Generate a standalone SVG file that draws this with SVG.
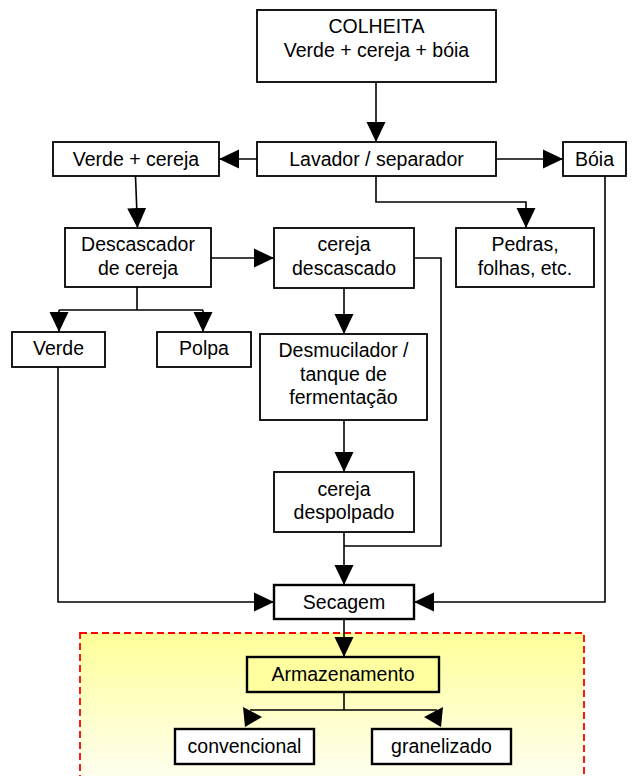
<svg xmlns="http://www.w3.org/2000/svg" width="638" height="776" viewBox="0 0 638 776">
<style>
.box{fill:#fff;stroke:#000;stroke-width:1.8}
.bbox{fill:#fff;stroke:#000;stroke-width:2.4}
.ybox{fill:#ffffa0;stroke:#000;stroke-width:2.4}
.t{font-family:"Liberation Sans",Arial,sans-serif;font-size:19.5px;fill:#000;text-anchor:middle}
.c{fill:none;stroke:#000;stroke-width:1.6}
.a{marker-end:url(#ah)}
</style>
<defs>
<marker id="ah" markerUnits="userSpaceOnUse" markerWidth="20" markerHeight="20" refX="20" refY="9.5" orient="auto" viewBox="0 0 20 19">
<path d="M0,0 L20,9.5 L0,19 z" fill="#000"/>
</marker>
<linearGradient id="yg" x1="0" y1="0" x2="0" y2="1">
<stop offset="0" stop-color="#ffff99"/>
<stop offset="1" stop-color="#ffffff"/>
</linearGradient>
</defs>
<rect x="80" y="633" width="504" height="170" fill="url(#yg)" stroke="#ff0000" stroke-width="1.8" stroke-dasharray="7,4"/>
<g id="connectors">
<line class="c a" x1="376" y1="82" x2="376" y2="142"/>
<line class="c a" x1="257" y1="159" x2="219" y2="159"/>
<line class="c a" x1="496" y1="159" x2="563" y2="159"/>
<polyline class="c a" points="376,176 376,202 526,202 526,228"/>
<line class="c a" x1="135.5" y1="176" x2="137.5" y2="228"/>
<line class="c a" x1="211" y1="258" x2="274" y2="258"/>
<polyline class="c" points="137,287 137,310"/>
<line class="c" x1="59" y1="310" x2="203" y2="310"/>
<line class="c a" x1="59" y1="310" x2="59" y2="332"/>
<line class="c a" x1="203" y1="310" x2="203" y2="332"/>
<line class="c a" x1="344" y1="288" x2="344" y2="334"/>
<line class="c a" x1="344" y1="420" x2="344" y2="472"/>
<polyline class="c" points="414,258 441,258 441,546 344,546"/>
<line class="c a" x1="344" y1="532" x2="344" y2="585"/>
<polyline class="c a" points="58,367 58,602 274,602"/>
<polyline class="c a" points="605,176 605,602 414,602"/>
<line class="c a" x1="344" y1="619" x2="344" y2="657"/>
<line class="c" x1="344" y1="692" x2="344" y2="710"/>
<line class="c" x1="250" y1="710" x2="437" y2="710"/>
<polygon points="243,707 262,717 245,727" fill="#000"/>
<polygon points="443,707 424,717 441,727" fill="#000"/>
</g>
<g id="colheita"><rect class="box" x="257" y="10" width="239" height="72"/><text class="t" x="376.5" y="33">COLHEITA</text><text class="t" x="376.5" y="57">Verde + cereja + bóia</text></g>
<g id="lavador"><rect class="box" x="257" y="142" width="239" height="34"/><text class="t" x="376.5" y="166">Lavador / separador</text></g>
<g id="verde-cereja"><rect class="box" x="53" y="142" width="166" height="34"/><text class="t" x="136" y="166">Verde + cereja</text></g>
<g id="boia"><rect class="box" x="563" y="142" width="63" height="34"/><text class="t" x="594.5" y="166">Bóia</text></g>
<g id="descascador"><rect class="box" x="65" y="228" width="146" height="59"/><text class="t" x="138" y="251">Descascador</text><text class="t" x="138" y="275">de cereja</text></g>
<g id="cereja-descascado"><rect class="box" x="274" y="228" width="140" height="60"/><text class="t" x="344" y="251">cereja</text><text class="t" x="344" y="275">descascado</text></g>
<g id="pedras"><rect class="box" x="456" y="228" width="138" height="59"/><text class="t" x="525" y="251">Pedras,</text><text class="t" x="525" y="275">folhas, etc.</text></g>
<g id="verde"><rect class="box" x="12" y="332" width="93" height="35"/><text class="t" x="58.5" y="355">Verde</text></g>
<g id="polpa"><rect class="box" x="157" y="332" width="94" height="35"/><text class="t" x="204" y="355">Polpa</text></g>
<g id="desmucilador"><rect class="box" x="260" y="334" width="167" height="86"/><text class="t" x="343.5" y="357">Desmucilador /</text><text class="t" x="343.5" y="380.5">tanque de</text><text class="t" x="343.5" y="404">fermentação</text></g>
<g id="cereja-despolpado"><rect class="box" x="274" y="472" width="140" height="60"/><text class="t" x="344" y="496">cereja</text><text class="t" x="344" y="519">despolpado</text></g>
<g id="secagem"><rect class="bbox" x="274" y="585" width="140" height="34"/><text class="t" x="344" y="609">Secagem</text></g>
<g id="armazenamento"><rect class="ybox" x="247" y="657" width="192" height="35"/><text class="t" x="343" y="681">Armazenamento</text></g>
<g id="convencional"><rect class="bbox" x="175" y="729" width="139" height="35"/><text class="t" x="244.5" y="753">convencional</text></g>
<g id="granelizado"><rect class="bbox" x="372" y="729" width="139" height="35"/><text class="t" x="441.5" y="753">granelizado</text></g>
</svg>
